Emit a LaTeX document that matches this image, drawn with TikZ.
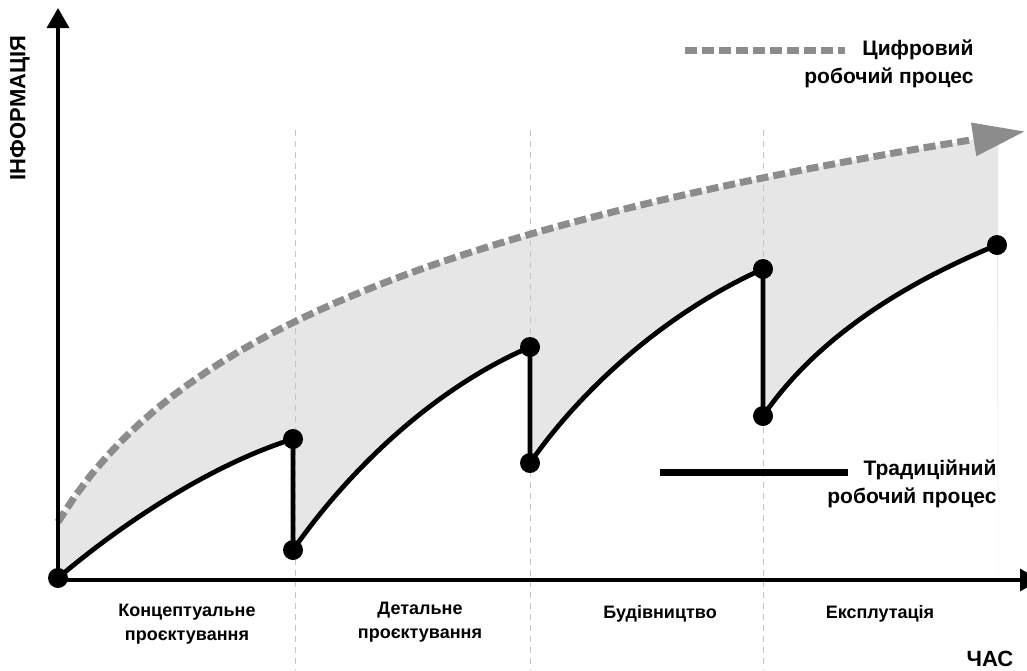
\documentclass[tikz,border=0pt]{standalone}
\usepackage{fontspec}
\setmainfont{Liberation Sans}
\usetikzlibrary{arrows.meta,backgrounds,positioning}
\definecolor{digigray}{HTML}{8C8C8C}
\definecolor{areagray}{HTML}{E6E6E6}
\definecolor{phaseline}{HTML}{C4C4C4}

\begin{document}
\begin{tikzpicture}[x=1pt, y=-1pt]
\tikzstyle{dot} = [circle, fill=black, inner sep=0pt, minimum size=20pt]
\tikzstyle{axis} = [line width=3.5pt, -{Triangle[length=20pt, width=22pt]}]
\tikzstyle{trad} = [line width=4.8pt]
\tikzstyle{digital} = [line width=7pt, digigray, dash pattern=on 12pt off 5pt]
\tikzstyle{phase} = [phaseline, line width=0.8pt, dash pattern=on 6pt off 5pt]
\tikzstyle{lbl} = [font=\fontsize{18}{24}\selectfont\bfseries, align=center]
\tikzstyle{axlbl} = [font=\fontsize{22}{26}\selectfont\bfseries]
\tikzstyle{legend} = [font=\fontsize{21}{28}\selectfont\bfseries, align=right, anchor=east]
\useasboundingbox (0,0) rectangle (1027,670);
% axes
\coordinate (o) at (58,580);
\coordinate (ytip) at (58,8);
\coordinate (xtip) at (1040,580);
% jumps of the traditional workflow
\node (p0) [dot] at (58,578) {};
\node (p1) [dot] at (293,439) {};
\node (p2) [dot] at (293,550) {};
\node (p3) [dot] at (530,347) {};
\node (p4) [dot] at (530,463) {};
\node (p5) [dot] at (763,269) {};
\node (p6) [dot] at (763,416) {};
\node (p7) [dot] at (997,245) {};
% gray area between both workflows
\begin{scope}[on background layer]
\begin{scope}
\clip (58,0) rectangle (998,580);
\fill[areagray] plot[domain=58:1025, samples=60] (\x, {522-165*ln(1+(\x-58)/100)}) -- (1025,580) -- (58,580) -- cycle;
\end{scope}
\fill[white] (p0.center) .. controls (120,525) and (210,465) .. (p1.center) -- (293,580) -- cycle;
\fill[white] (p2.center) .. controls (345,475) and (430,390) .. (p3.center) -- (530,580) -- (293,580) -- cycle;
\fill[white] (p4.center) .. controls (582,388) and (667,312) .. (p5.center) -- (763,580) -- (530,580) -- cycle;
\fill[white] (p6.center) .. controls (815,340) and (900,285) .. (p7.center) -- (998,580) -- (763,580) -- cycle;
\foreach \x in {295,530,763}
  \draw[phase] (\x,130) -- (\x,670);
\end{scope}
% digital workflow
\draw[digital, -{Triangle[length=52pt, width=32pt]}] plot[domain=58:1025, samples=60] (\x, {522-165*ln(1+(\x-58)/100)});
% traditional workflow
\draw[trad] (p0.center) .. controls (120,525) and (210,465) .. (p1.center) -- (p2.center)
  .. controls (345,475) and (430,390) .. (p3.center) -- (p4.center)
  .. controls (582,388) and (667,312) .. (p5.center) -- (p6.center)
  .. controls (815,340) and (900,285) .. (p7.center);
\draw[axis] (o) -- (ytip);
\draw[axis] (o) -- (xtip);
% axis labels
\node (info) [axlbl, rotate=90] at (20,108) {ІНФОРМАЦІЯ};
\node (time) [axlbl] at (990,659) {ЧАС};
% phases
\node (ph1) [lbl] at (187,624) {Концептуальне\\проєктування};
\node (ph2) [lbl] at (420,622) {Детальне\\проєктування};
\node (ph3) [lbl] at (660,614) {Будівництво};
\node (ph4) [lbl] at (880,614) {Експлутація};
% legend
\coordinate (d1) at (685,50);
\coordinate (d2) at (845,50);
\draw[digital] (d1) -- (d2);
\node (dlbl) [legend] at (977,64) {Цифровий\\робочий процес};
\coordinate (t1) at (660,472);
\coordinate (t2) at (848,472);
\draw[line width=7pt] (t1) -- (t2);
\node (tlbl) [legend] at (1000,484) {Традиційний\\робочий процес};
\end{tikzpicture}
\end{document}
